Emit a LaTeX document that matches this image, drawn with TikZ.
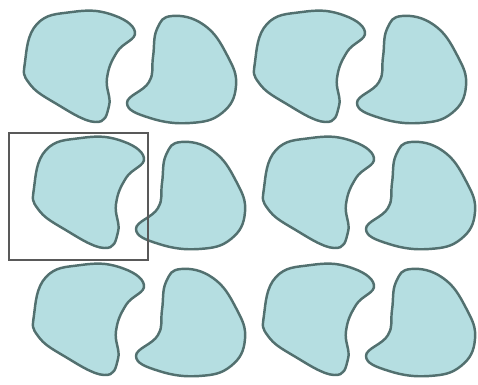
\documentclass[tikz,border=0pt]{standalone}
\usetikzlibrary{positioning}
\definecolor{blobfill}{HTML}{B5DEE1}
\definecolor{blobline}{HTML}{52706F}
\tikzset{
  blob/.style={fill=blobfill, draw=blobline, line width=1.4pt, line join=round},
  frame/.style={draw=black!65, line width=1.1pt}
}

\begin{document}
\begin{tikzpicture}[x=0.2mm,y=-0.2mm]
  \useasboundingbox (0,0) rectangle (478,384);
  % pairs of blobs, three rows, two pairs per row
  \foreach \dx/\dy in {0/0,230/0,9/126,239/126,9/253,239/253} {
    \begin{scope}[shift={(\dx,\dy)}]
      % left blob, notch on the right
      \draw[blob] plot[smooth cycle, tension=0.75] coordinates {
        (25,62) (37,24) (72,12) (110,14) (135,32) (117,52)
        (107,78) (109,106) (95,122) (55,103) (29,83)};
      % right blob, notch on the left
      \draw[blob] plot[smooth cycle, tension=0.75] coordinates {
        (172,16) (204,25) (227,55) (236,86) (222,113) (190,123)
        (150,118) (127,103) (149,82) (153,57) (157,29)};
    \end{scope}
  }
  % frame round one blob
  \coordinate (tl) at (9,133);
  \coordinate (br) at (148,260);
  \draw[frame] (tl) rectangle (br);
\end{tikzpicture}
\end{document}
